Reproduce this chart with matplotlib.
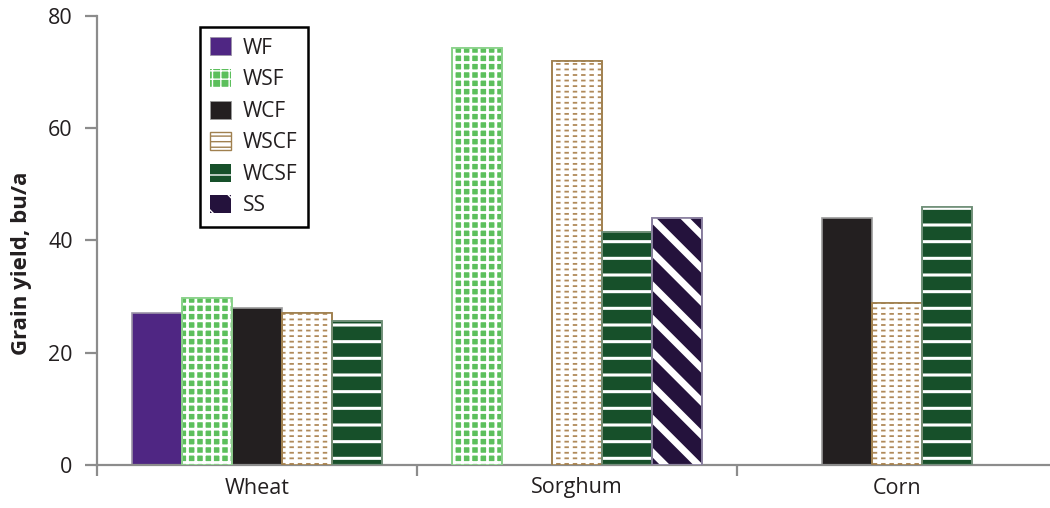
import numpy as np
import matplotlib.pyplot as plt
from matplotlib.patches import Patch

plt.rcParams['font.family'] = ['Open Sans', 'DejaVu Sans']

# categories and yields (bu/a); nan = no bar slot, 0 = empty slot
crops = ['Wheat', 'Sorghum', 'Corn']
series = ['WF', 'WSF', 'WCF', 'WSCF', 'WCSF', 'SS']
wf = [27, np.nan, np.nan]
wsf = [29.8, 74.3, np.nan]
wcf = [27.9, 0, 44]
wscf = [27, 72, 28.9]
wcsf = [25.7, 41.6, 45.9]
ss = [np.nan, 44, np.nan]
values = [wf, wsf, wcf, wscf, wcsf, ss]

# look of each series: face, edge, hatch layers, hatch colours, hatch widths
styles = {
    'WF': dict(face='#4F2683', edge='#9c94a8', hatch=None),
    'WSF': dict(face='#5CBF5C', edge='#8AD28A', hatch=['++'], hc=['white'], hw=[2.0]),
    'WCF': dict(face='#231F20', edge='#9a9a9a', hatch=None),
    'WSCF': dict(face='white', edge='#A0804F', hatch=['---', '||'], hc=['#B08A5A', 'white'], hw=[1.3, 2.8]),
    'WCSF': dict(face='#17502A', edge='#6f8f78', hatch=['-'], hc=['white'], hw=[2.2]),
    'SS': dict(face='#24123C', edge='#8a80a0', hatch=['\\'], hc=['white'], hw=[5.0]),
}

fig = plt.figure(figsize=(10.5, 5.08), dpi=100)
ax = fig.add_axes([97 / 1050, 43 / 508, 960 / 1050, 449 / 508])

width = 50 / 320


def draw(x, h, st, target):
    bars = target.bar(x, h, width, color=st['face'], edgecolor=st['edge'], linewidth=1.2, zorder=2)
    if st['hatch']:
        for hp, hc, hw in zip(st['hatch'], st['hc'], st['hw']):
            with plt.rc_context({'hatch.linewidth': hw}):
                over = target.bar(x, h, width * 0.96, fill=False, edgecolor=hc, hatch=hp, linewidth=0, zorder=3)
                for p in over:
                    if hasattr(p, 'set_hatch_linewidth'):
                        p.set_hatch_linewidth(hw)
        target.bar(x, h, width, fill=False, edgecolor=st['edge'], linewidth=1.2, zorder=4)
    return bars


for i, crop in enumerate(crops):
    present = [k for k in range(len(series)) if not np.isnan(values[k][i])]
    n = len(present)
    for j, k in enumerate(present):
        h = values[k][i]
        if h == 0:
            continue
        x = i + (j - (n - 1) / 2) * width
        draw(x, h, styles[series[k]], ax)

ax.set_xlim(-0.5, 2.5)
ax.set_ylim(0, 80)
ax.set_yticks([0, 20, 40, 60, 80])
ax.set_xticks([-0.5, 0.5, 1.5, 2.5])
ax.set_xticklabels([])
ax.set_xticks([0, 1, 2], minor=True)
ax.set_xticklabels(crops, minor=True, fontsize=15.5, color='#231F20')
ax.tick_params(axis='x', which='minor', length=0, pad=9)
ax.tick_params(axis='x', which='major', length=8, width=1.6, color='#8c8c8c')
ax.tick_params(axis='y', length=8.5, width=1.6, color='#8c8c8c', labelsize=15.5, pad=9,
               labelcolor='#231F20')
for s in ['top', 'right']:
    ax.spines[s].set_visible(False)
for s in ['left', 'bottom']:
    ax.spines[s].set_color('#8c8c8c')
    ax.spines[s].set_linewidth(1.6)
ax.spines['left'].set_bounds(0, 80)
ax.set_ylabel('Grain yield, bu/a', fontsize=16, fontweight='bold', color='#231F20')
ax.yaxis.set_label_coords(-0.068, 0.45)

# legend
handles = []
for name in series:
    st = styles[name]
    if st['hatch']:
        hc = st['edge'] if name == 'WSCF' else st['hc'][0]
        with plt.rc_context({'hatch.linewidth': st['hw'][0] * 0.8}):
            p = Patch(facecolor=st['face'], edgecolor=hc, hatch=st['hatch'][0],
                      linewidth=1 if name == 'WSCF' else 0, label=name)
    else:
        p = Patch(facecolor=st['face'], edgecolor=st['edge'], linewidth=0.6, label=name)
    handles.append(p)
leg = ax.legend(handles=handles, loc='upper left', bbox_to_anchor=(200 / 1050, 1 - 27 / 508),
                bbox_transform=fig.transFigure, fontsize=15, frameon=True, fancybox=False,
                handlelength=1.0, handleheight=0.95, handletextpad=0.55, labelspacing=0.5,
                borderpad=0.5, borderaxespad=0, framealpha=1)
leg.get_frame().set_edgecolor('black')
leg.get_frame().set_linewidth(1.8)
for t in leg.get_texts():
    t.set_color('#231F20')

fig.savefig('out.png', dpi=100)
